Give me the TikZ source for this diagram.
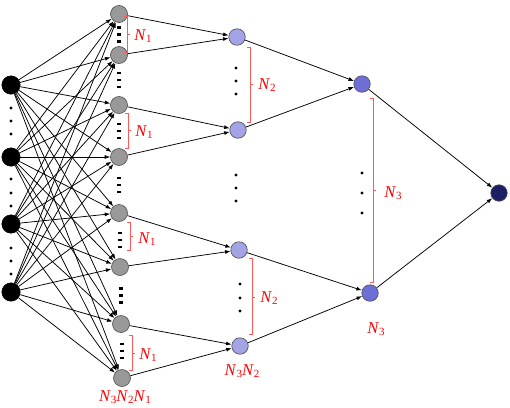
\documentclass[tikz,border=0pt]{standalone}
\usepackage{fontspec}
\setmainfont{Liberation Serif}
\usetikzlibrary{arrows.meta}
\definecolor{grayfill}{HTML}{999999}
\definecolor{lblue}{HTML}{A3A3E6}
\definecolor{mblue}{HTML}{6E6ED6}
\definecolor{dnavy}{HTML}{1E1E66}
\definecolor{brred}{HTML}{FF5A5A}
\newcommand{\Nn}[1]{\textit{N}\raisebox{-0.35ex}{\fontsize{11}{11}\selectfont #1}}
\begin{document}
\begin{tikzpicture}[x=1pt,y=-1pt,
  inp/.style={circle,fill=black,draw=black,minimum size=18.5pt,inner sep=0pt},
  gnode/.style={circle,fill=grayfill,draw=black!70,line width=0.6pt,minimum size=17pt,inner sep=0pt},
  bnode/.style={circle,fill=lblue,draw=black!70,line width=0.6pt,minimum size=16.5pt,inner sep=0pt},
  mnode/.style={circle,fill=mblue,draw=black!70,line width=0.6pt,minimum size=16.5pt,inner sep=0pt},
  fnode/.style={circle,fill=dnavy,draw=black!70,line width=0.6pt,minimum size=16.5pt,inner sep=0pt},
  conn/.style={-{Latex[length=5.5pt,width=4pt]},line width=0.75pt},
  brk/.style={draw=brred,line width=0.9pt},
  lab/.style={text=red,font=\fontsize{16.5}{16.5}\selectfont,inner sep=0pt},
  dotb/.style={circle,fill=black,inner sep=0pt,minimum size=3.4pt},
  smalldash/.style={fill=black,inner sep=0pt,minimum width=3.2pt,minimum height=2.2pt}
]
\useasboundingbox (0,0) rectangle (510,407);
% input nodes
\node[inp] (i1) at (11,85) {};
\node[inp] (i2) at (11,157) {};
\node[inp] (i3) at (11,224) {};
\node[inp] (i4) at (11,292) {};
% gray nodes
\node[gnode] (g1) at (119,14) {};
\node[gnode] (g2) at (119,55) {};
\node[gnode] (g3) at (119,105) {};
\node[gnode] (g4) at (119,157) {};
\node[gnode] (g5) at (119,213) {};
\node[gnode] (g6) at (120,267) {};
\node[gnode] (g7) at (121,324) {};
\node[gnode] (g8) at (122,378) {};
% blue nodes
\node[bnode] (b1) at (237,37) {};
\node[bnode] (b2) at (238,130) {};
\node[bnode] (b3) at (239,250) {};
\node[bnode] (b4) at (240,346) {};
% medium blue
\node[mnode] (m1) at (362,84) {};
\node[mnode] (m2) at (370,293) {};
% final
\node[fnode] (f) at (499,193) {};
% edges input -> gray
\foreach \i in {1,...,4}{
  \foreach \g in {1,...,8}{
    \draw[conn] (i\i) -- (g\g);
  }
}
\draw[conn] (g1) -- (b1);
\draw[conn] (g2) -- (b1);
\draw[conn] (g3) -- (b2);
\draw[conn] (g4) -- (b2);
\draw[conn] (g5) -- (b3);
\draw[conn] (g6) -- (b3);
\draw[conn] (g7) -- (b4);
\draw[conn] (g8) -- (b4);
\draw[conn] (b1) -- (m1);
\draw[conn] (b2) -- (m1);
\draw[conn] (b3) -- (m2);
\draw[conn] (b4) -- (m2);
\draw[conn] (m1) -- (f);
\draw[conn] (m2) -- (f);
% input dots
\foreach \y in {108,121,134,179,193,206,248,261,274}{
  \node[dotb] at (11,\y) {};
}
% gray column dashes
\foreach \a/\b/\x in {14/55/119,55/105/119,105/157/119,157/213/119,213/267/120,267/324/121,324/378/122}{
  \pgfmathsetmacro{\m}{(\a+\b)/2}
  \foreach \d in {-7,0,7}{
    \node[smalldash] at (\x,\m+\d) {};
  }
}
% blue column dots
\foreach \y in {68,81,94}{\node[dotb] at (236,\y) {};}
\foreach \y in {175,188,201}{\node[dotb] at (236,\y) {};}
\foreach \y in {284,298,311}{\node[dotb] at (240,\y) {};}
% medium column dots
\foreach \y in {173,193,213}{\node[dotb] at (362,\y) {};}
% N1 brackets
\draw[brk] (124,16) -- (127,16) -- (127,52) -- (124,52) (127,34) -- (130,34);
\node[lab] at (143,36) {\Nn{1}};
\draw[brk] (125,113) -- (128,113) -- (128,148) -- (125,148) (128,130) -- (131,130);
\node[lab] at (144,132) {\Nn{1}};
\draw[brk] (127,222) -- (130,222) -- (130,250) -- (127,250) (130,236) -- (133,236);
\node[lab] at (147,239) {\Nn{1}};
\draw[brk] (129,335) -- (132,335) -- (132,370) -- (129,370) (132,353) -- (135,353);
\node[lab] at (148,355) {\Nn{1}};
% N2 brackets
\draw[brk] (247,47) -- (250,47) -- (250,122) -- (247,122) (250,84) -- (253,84);
\node[lab] at (267,85) {\Nn{2}};
\draw[brk] (249,258) -- (252,258) -- (252,334) -- (249,334) (252,297) -- (255,297);
\node[lab] at (269,298) {\Nn{2}};
% N3 bracket
\draw[brk] (370,98) -- (373,98) -- (373,282) -- (370,282) (373,190) -- (376,190);
\node[lab] at (393,193) {\Nn{3}};
% bottom labels
\node[lab] at (125,397) {\Nn{3}\Nn{2}\Nn{1}};
\node[lab] at (242,371) {\Nn{3}\Nn{2}};
\node[lab] at (376,329) {\Nn{3}};
\end{tikzpicture}
\end{document}
